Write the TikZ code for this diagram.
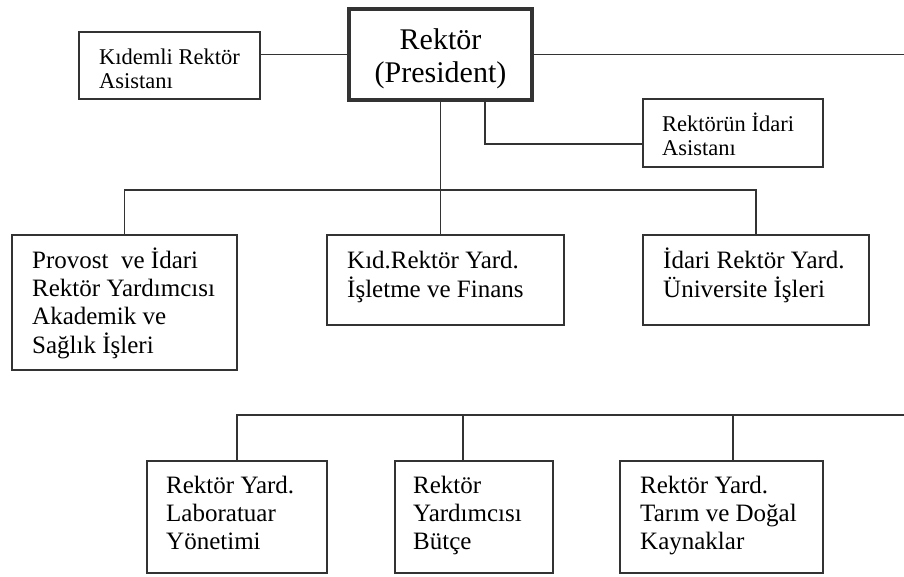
\documentclass[tikz,border=0pt]{standalone}
\usepackage{fontspec}
\setmainfont{Liberation Serif}
\usetikzlibrary{calc}
\definecolor{lc}{HTML}{333333}
% text blocks: first line sits on the node's base
\newcommand\bigtxt[1]{\fontsize{25}{28}\selectfont\begin{tabular}[t]{@{}l@{}}#1\end{tabular}}
\newcommand\smalltxt[1]{\fontsize{22.5}{24.5}\selectfont\begin{tabular}[t]{@{}l@{}}#1\end{tabular}}
\newcommand\headtxt[1]{\fontsize{30}{33.5}\selectfont\begin{tabular}[t]{@{}c@{}}#1\end{tabular}}
\begin{document}
\begin{tikzpicture}[x=1pt,y=-1pt,
  box/.style={draw=lc, rectangle, inner sep=0pt, outer sep=0pt, anchor=north west},
  thinbox/.style={box, line width=1.4pt},
  midbox/.style={box, line width=2.4pt},
  headbox/.style={box, line width=4pt},
  link/.style={draw=lc, line width=1.4pt},
  txt/.style={inner sep=0pt, anchor=base west, text=black},
  headlbl/.style={inner sep=0pt, anchor=base, text=black}]
\useasboundingbox (0,0) rectangle (904,576);

% president and assistants
\node[headbox, minimum width=183pt, minimum height=91pt] (rek) at (349,9) {};
\node[thinbox, minimum width=181pt, minimum height=67pt] (kid) at (79,32) {};
\node[thinbox, minimum width=180pt, minimum height=68pt] (ias) at (643,99) {};

% vice presidents, first row
\node[midbox, minimum width=225pt, minimum height=135pt] (prov) at (12,235) {};
\node[midbox, minimum width=237pt, minimum height=90pt] (kfin) at (327,235) {};
\node[midbox, minimum width=226pt, minimum height=90pt] (idr) at (643,235) {};

% vice presidents, second row
\node[thinbox, minimum width=180pt, minimum height=112pt] (lab) at (147,461) {};
\node[thinbox, minimum width=158pt, minimum height=112pt] (but) at (395,461) {};
\node[thinbox, minimum width=203pt, minimum height=112pt] (tar) at (620,461) {};

% labels
\node[headlbl] (rekT) at ($(rek.north)+(0,40)$) {\headtxt{Rektör\\(President)}};
\node[txt] (kidT) at ($(kid.north west)+(20,32)$) {\smalltxt{Kıdemli Rektör\\Asistanı}};
\node[txt] (iasT) at ($(ias.north west)+(19,32)$) {\smalltxt{Rektörün İdari\\Asistanı}};
\node[txt] (provT) at ($(prov.north west)+(20,33)$) {\bigtxt{Provost\ \ ve İdari\\Rektör Yardımcısı\\Akademik ve\\Sağlık İşleri}};
\node[txt] (kfinT) at ($(kfin.north west)+(20,33)$) {\bigtxt{Kıd.Rektör Yard.\\İşletme ve Finans}};
\node[txt] (idrT) at ($(idr.north west)+(20,33)$) {\bigtxt{İdari Rektör Yard.\\Üniversite İşleri}};
\node[txt] (labT) at ($(lab.north west)+(19,32)$) {\bigtxt{Rektör Yard.\\Laboratuar\\Yönetimi}};
\node[txt] (butT) at ($(but.north west)+(18,32)$) {\bigtxt{Rektör\\Yardımcısı\\Bütçe}};
\node[txt] (tarT) at ($(tar.north west)+(20,32)$) {\bigtxt{Rektör Yard.\\Tarım ve Doğal\\Kaynaklar}};

% junction points
\coordinate (outTop) at (904,53);
\coordinate (busTop) at (440.5,190);
\coordinate (asDrop) at (485,144);
\coordinate (kfDrop) at (440.5,190);
\coordinate (outBot) at (904,415);
\coordinate (butDrop) at (463,415);
\coordinate (tarDrop) at (733,415);

% connectors
\draw[link] (rek.west) -- (rek.west -| kid.east);
\draw[link] (rek.east) -- (rek.east -| outTop);
\draw[link] (asDrop |- rek.south) -- (asDrop) -- (asDrop -| ias.west);
\draw[link] (rek.south) -- (busTop);
\draw[link] (busTop) -| (prov.north);
\draw[link] (busTop) -| (idr.north);
\draw[link] (kfDrop) -- (kfDrop |- kfin.north);
\draw[link] (outBot) -| (lab.north);
\draw[link] (butDrop) -- (butDrop |- but.north);
\draw[link] (tarDrop) -- (tarDrop |- tar.north);
\end{tikzpicture}
\end{document}
